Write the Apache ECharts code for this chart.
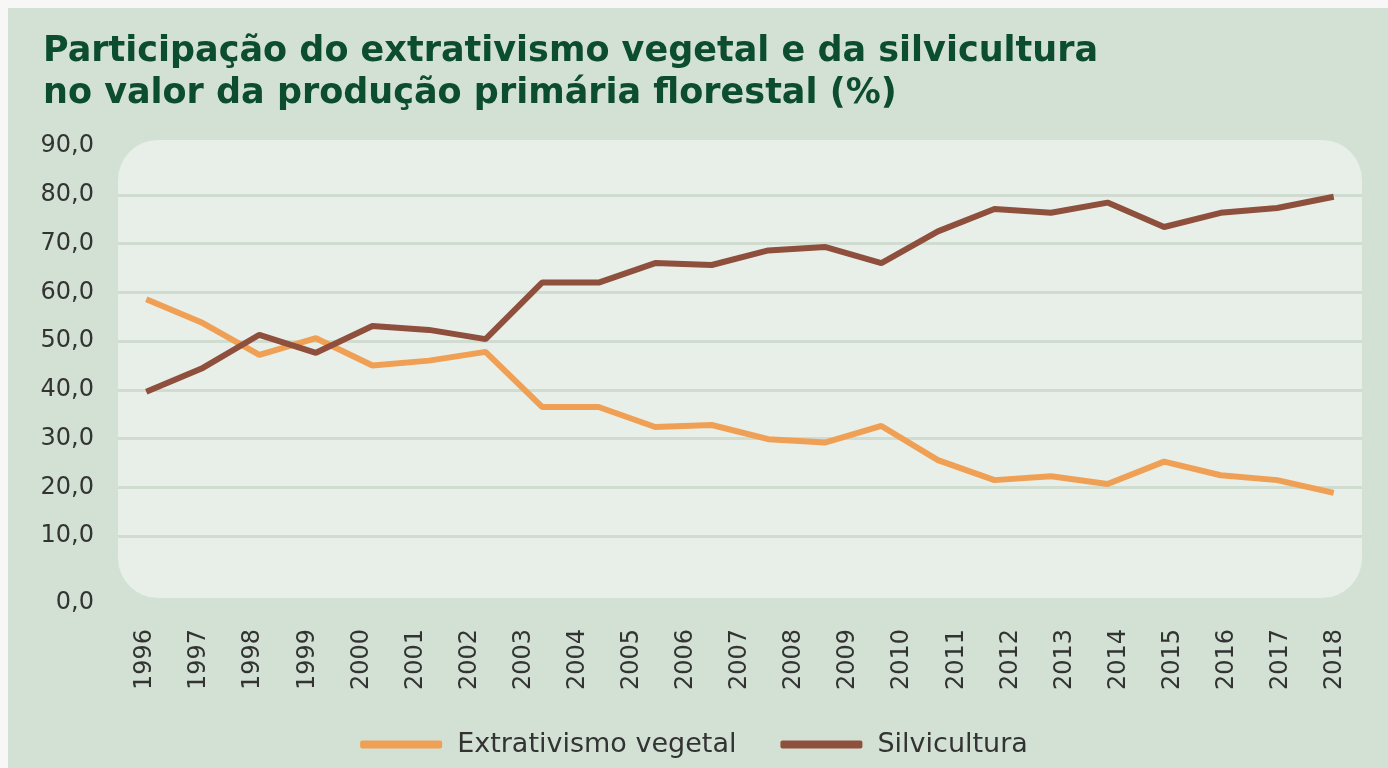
<!DOCTYPE html>
<html>
<head>
<meta charset="utf-8">
<script src="https://cdn.jsdelivr.net/npm/echarts@6/dist/echarts.min.js"></script>
<style>
  html, body { margin: 0; padding: 0; background: #f7f7f7; }
  #chart { width: 1388px; height: 768px; }
</style>
</head>
<body>
<div id="chart"></div>
<script>
// year labels shown under the plot
const years = ['1996', '1997', '1998', '1999', '2000', '2001', '2002', '2003', '2004', '2005', '2006', '2007',
  '2008', '2009', '2010', '2011', '2012', '2013', '2014', '2015', '2016', '2017', '2018'];

// the source plots 22 points across the 23 year labels
const pointIndex = ['1', '2', '3', '4', '5', '6', '7', '8', '9', '10', '11', '12',
  '13', '14', '15', '16', '17', '18', '19', '20', '21', '22'];

const extrativismo = [58.6, 53.7, 47.2, 50.6, 45.0, 46.0, 47.8, 36.5, 36.5, 32.4, 32.8, 29.9,
  29.2, 32.6, 25.6, 21.5, 22.3, 20.7, 25.3, 22.5, 21.5, 18.9];
const silvicultura = [39.6, 44.5, 51.3, 47.6, 53.1, 52.3, 50.4, 62.0, 62.0, 66.0, 65.6, 68.6,
  69.3, 66.0, 72.5, 77.1, 76.3, 78.4, 73.4, 76.3, 77.3, 79.6];

const yTicks = [0, 10, 20, 30, 40, 50, 60, 70, 80, 90];

let chartDom = document.getElementById('chart');
let chart = echarts.init(chartDom, null, {renderer: 'canvas'});

const gridColor = '#cfdccf';
const labelFont = '"DejaVu Sans", sans-serif';

let option = {
  backgroundColor: '#f7f7f7',
  animation: false,
  title: {
    text: 'Participação do extrativismo vegetal e da silvicultura\nno valor da produção primária florestal (%)',
    left: 38,
    top: 26,
    textStyle: {
      fontFamily: labelFont,
      fontSize: 35,
      fontWeight: 'bold',
      color: '#0c4d2f',
      lineHeight: 42
    }
  },
  graphic: [
    {
      type: 'rect',
      z: -20,
      shape: {x: 8, y: 8, width: 1380, height: 760},
      style: {fill: '#d3e1d4'}
    },
    {
      type: 'rect',
      z: -10,
      shape: {x: 118, y: 140, width: 1244, height: 458, r: 40},
      style: {fill: '#e8efe8'}
    }
  ],
  legend: {
    bottom: 5,
    left: 'center',
    itemWidth: 82,
    itemHeight: 8,
    itemGap: 44,
    icon: 'roundRect',
    textStyle: {
      fontFamily: labelFont,
      fontSize: 27,
      color: '#333',
      padding: [0, 0, 0, 10]
    },
    data: ['Extrativismo vegetal', 'Silvicultura']
  },
  grid: {
    left: 118,
    right: 26,
    top: 146,
    bottom: 183,
    containLabel: false
  },
  xAxis: [
    {
      type: 'category',
      data: years,
      boundaryGap: true,
      axisLine: {show: false},
      axisTick: {show: false},
      axisLabel: {
        rotate: 90,
        margin: 44,
        fontFamily: labelFont,
        fontSize: 24,
        color: '#333'
      }
    },
    {
      type: 'category',
      data: pointIndex,
      boundaryGap: true,
      show: false
    }
  ],
  yAxis: {
    type: 'value',
    min: yTicks[0],
    max: yTicks[yTicks.length - 1],
    interval: 10,
    axisLine: {show: false},
    axisTick: {show: false},
    splitLine: {
      lineStyle: {
        width: 3,
        color: ['transparent', gridColor, gridColor, gridColor, gridColor,
          gridColor, gridColor, gridColor, gridColor, 'transparent']
      }
    },
    axisLabel: {
      margin: 24,
      fontFamily: labelFont,
      fontSize: 24,
      color: '#333',
      formatter: function (v) {
        const s = v.toFixed(1).replace('.', ',');
        return v === 0 ? '{z|' + s + '}' : s;
      },
      rich: {
        z: {
          fontFamily: labelFont,
          fontSize: 24,
          color: '#333',
          padding: [36, 0, 0, 0]
        }
      }
    }
  },
  series: [
    {
      name: 'Extrativismo vegetal',
      type: 'line',
      xAxisIndex: 1,
      data: extrativismo,
      color: '#f0a055',
      showSymbol: false,
      symbol: 'none',
      lineStyle: {width: 6, color: '#f0a055'}
    },
    {
      name: 'Silvicultura',
      type: 'line',
      xAxisIndex: 1,
      data: silvicultura,
      color: '#8e4f3d',
      showSymbol: false,
      symbol: 'none',
      lineStyle: {width: 6, color: '#8e4f3d'}
    }
  ]
};

chart.setOption(option);
window.addEventListener('resize', function () {
  chart.resize();
});
</script>
</body>
</html>
